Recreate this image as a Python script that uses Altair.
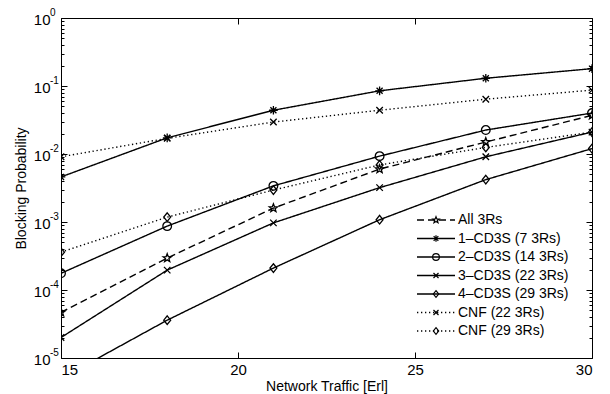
import math
import altair as alt
import pandas as pd

# ---------------- data ----------------
traffic = [15, 18, 21, 24, 27, 30]

all_3rs = [4.7e-5, 2.95e-4, 1.6e-3, 6.0e-3, 1.5e-2, 3.7e-2]
cd3s_1 = [4.6e-3, 1.73e-2, 4.4e-2, 8.5e-2, 0.13, 0.18]
cd3s_2 = [1.76e-4, 8.7e-4, 3.4e-3, 9.3e-3, 2.25e-2, 4.0e-2]
cd3s_3 = [2.0e-5, 1.96e-4, 9.7e-4, 3.2e-3, 9.1e-3, 2.1e-2]
cd3s_4 = [5.0e-6, 3.6e-5, 2.1e-4, 1.08e-3, 4.2e-3, 1.2e-2]
cnf_22 = [9.1e-3, 1.7e-2, 2.95e-2, 4.4e-2, 6.4e-2, 8.7e-2]
cnf_29 = [3.6e-4, 1.18e-3, 2.95e-3, 6.9e-3, 1.25e-2, 2.1e-2]

series_names = [
    "All 3Rs",
    "1–CD3S (7 3Rs)",
    "2–CD3S (14 3Rs)",
    "3–CD3S (22 3Rs)",
    "4–CD3S (29 3Rs)",
    "CNF (22 3Rs)",
    "CNF (29 3Rs)",
]
series_values = [all_3rs, cd3s_1, cd3s_2, cd3s_3, cd3s_4, cnf_22, cnf_29]

x_ticks = [15, 20, 25, 30]
y_decades = [1e-5, 1e-4, 1e-3, 1e-2, 1e-1, 1.0]
y_exponents = ["-5", "-4", "-3", "-2", "-1", "0"]
y_minor = [m * 10.0 ** k for k in range(-5, 0) for m in range(2, 10)]

rows = []
for name, vals in zip(series_names, series_values):
    for x, v in zip(traffic, vals):
        rows.append({"series": name, "traffic": x, "prob": v})
df = pd.DataFrame(rows)
legend_df = pd.DataFrame({"series": series_names})
exp_df = pd.DataFrame({"prob": y_decades, "exp": y_exponents})

# ---------------- styles ----------------
FONT = "Liberation Sans"


def star_path(n=5, r_out=1.0, r_in=0.42):
    pts = []
    for i in range(2 * n):
        r = r_out if i % 2 == 0 else r_in
        a = -math.pi / 2 + i * math.pi / n
        pts.append(f"{r * math.cos(a):.3f},{r * math.sin(a):.3f}")
    return "M" + "L".join(pts) + "Z"


asterisk = "M-1,0L1,0M0,-1L0,1M-0.7,-0.7L0.7,0.7M-0.7,0.7L0.7,-0.7"
xmark = "M-0.75,-0.75L0.75,0.75M-0.75,0.75L0.75,-0.75"
diamond = "M0,-1L0.8,0L0,1L-0.8,0Z"

shape_range = [star_path(), asterisk, "circle", xmark, diamond, xmark, diamond]
dash_range = [[7, 4], [1, 0], [1, 0], [1, 0], [1, 0], [1.3, 2.7], [1.3, 2.7]]

shape_scale = alt.Scale(domain=series_names, range=shape_range)
dash_scale = alt.Scale(domain=series_names, range=dash_range)

xs = alt.Scale(domain=[15, 30], nice=False, zero=False)
ys = alt.Scale(type="log", domain=[1e-5, 1], nice=False)


def axis_layer(xaxis, yaxis):
    return alt.Chart(df).mark_point(opacity=0).encode(
        x=alt.X("traffic:Q", scale=xs, axis=xaxis),
        y=alt.Y("prob:Q", scale=ys, axis=yaxis),
    )


def tick_axis(values, orient, size):
    return alt.Axis(
        values=values, orient=orient, labels=False, domain=False, grid=False,
        ticks=True, tickSize=size, offset=-size, tickColor="black",
        tickWidth=1, title="",
    )


labels_layer = axis_layer(
    alt.Axis(values=x_ticks, format="d", orient="bottom", ticks=False, domain=False,
             grid=False, labelFont=FONT, labelFontSize=15, labelColor="black",
             labelPadding=4, title="Network Traffic [Erl]", titleFont=FONT,
             titleFontSize=14, titleFontWeight="normal", titleColor="black",
             titlePadding=2),
    alt.Axis(values=y_decades, labelExpr="'10'", orient="left", ticks=False,
             domain=False, grid=False, labelFont=FONT, labelFontSize=15,
             labelColor="black", labelPadding=11, labelBaseline="middle",
             labelOffset=1, title="Blocking Probability",
             titleFont=FONT, titleFontSize=14, titleFontWeight="normal",
             titleColor="black", titlePadding=5),
)
exponents = alt.Chart(exp_df).mark_text(align="left", baseline="middle", font=FONT,
                                        fontSize=10, color="black", dy=-5).encode(
    x=alt.value(-11),
    y=alt.Y("prob:Q", scale=ys, axis=None),
    text="exp:N",
)
ticks_a = axis_layer(tick_axis(x_ticks, "bottom", 6), tick_axis(y_decades, "left", 6))
ticks_b = axis_layer(tick_axis(x_ticks, "top", 6), tick_axis(y_minor, "left", 3))
ticks_c = axis_layer(None, tick_axis(y_decades, "right", 6))
ticks_d = axis_layer(None, tick_axis(y_minor, "right", 3))

lines = alt.Chart(df).mark_line(clip=True, color="black", strokeWidth=1.4).encode(
    x=alt.X("traffic:Q", scale=xs, axis=None),
    y=alt.Y("prob:Q", scale=ys, axis=None),
    strokeDash=alt.StrokeDash("series:N", scale=dash_scale, legend=None),
    detail="series:N",
)
points = alt.Chart(df).mark_point(clip=True, filled=False, color="black",
                                  strokeWidth=1.3, size=75, opacity=1).encode(
    x=alt.X("traffic:Q", scale=xs, axis=None),
    y=alt.Y("prob:Q", scale=ys, axis=None),
    shape=alt.Shape("series:N", scale=shape_scale, legend=None),
)

plot = alt.layer(labels_layer, ticks_a, ticks_b, ticks_c, ticks_d, exponents,
                 lines, points).resolve_axis(x="independent", y="independent")

ly = alt.Y("series:N", scale=alt.Scale(type="point", domain=series_names,
                                        range=[202, 313], padding=0), axis=None)
leg_lines = alt.Chart(legend_df).mark_rule(color="black", strokeWidth=1.4).encode(
    x=alt.value(356), x2=alt.value(394), y=ly,
    strokeDash=alt.StrokeDash("series:N", scale=dash_scale, legend=None),
)
leg_points = alt.Chart(legend_df).mark_point(filled=False, color="black", strokeWidth=1.2,
                                             size=45, opacity=1).encode(
    x=alt.value(375), y=ly,
    shape=alt.Shape("series:N", scale=shape_scale, legend=None),
)
leg_text = alt.Chart(legend_df).mark_text(align="left", baseline="middle", font=FONT,
                                          fontSize=14, color="black").encode(
    x=alt.value(397), y=ly, text="series:N",
)
legend = alt.layer(leg_lines, leg_points, leg_text)

chart = alt.layer(plot, legend).resolve_scale(y="independent").properties(
    width=531, height=340,
    autosize=alt.AutoSizeParams(type="none"),
    padding={"left": 53, "top": 10, "right": 10, "bottom": 36},
    background="white",
).configure_view(stroke="black", strokeWidth=1)

chart.save("out.html", embed_options={"renderer": "svg", "actions": False})
